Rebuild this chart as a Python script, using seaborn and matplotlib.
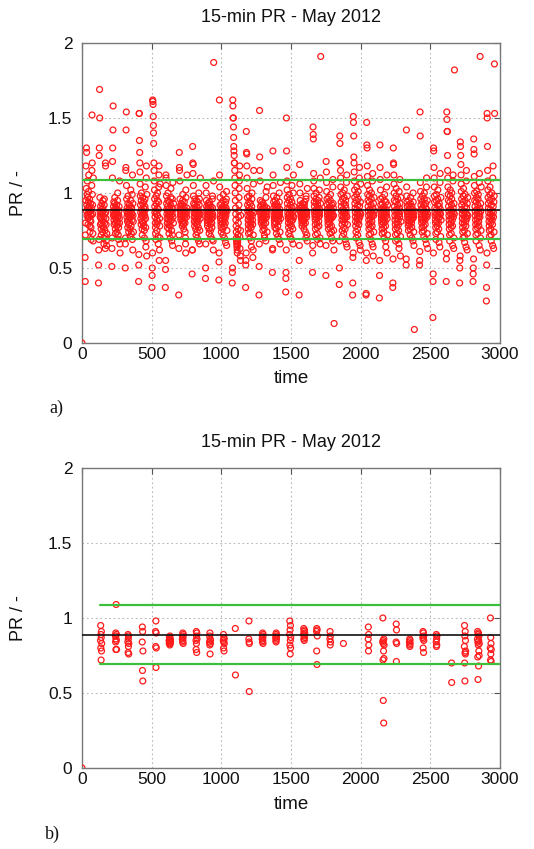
import numpy as np
import pandas as pd
import matplotlib
matplotlib.use("Agg")
import matplotlib.pyplot as plt
import seaborn as sns

# ---------------- data ----------------
title = "15-min PR - May 2012"
x_label = "time"
y_label = "PR / -"
x_ticks = [0, 500, 1000, 1500, 2000, 2500, 3000]
x_tick_labels = ["0", "500", "1000", "1500", "2000", "2500", "3000"]
y_ticks = [0, 0.5, 1, 1.5, 2]
y_tick_labels = ["0", "0.5", "1", "1.5", "2"]
panel_tags = ["a)", "b)"]

pr_mean = 0.885
pr_upper = 1.087
pr_lower = 0.692
a_band_start = 0
b_band_start = 130
band_end = 3000
origin_time = [0]
origin_pr = [0.0]

# panel a: first daylight 15-min slot of each day, and PR (in hundredths) per retained slot
a_day_start = [22, 118, 214, 310, 406, 502, 598, 694, 790, 886, 982, 1078, 1174, 1270,
               1366, 1462, 1558, 1654, 1750, 1846, 1942, 2038, 2134, 2230, 2326, 2422,
               2518, 2614, 2710, 2806, 2902]
a_slot_stride = 1.25
a_pr_pct = [
    [57, 41, 72, 80, 95, 118, 103, 88, 130, 127, 92, 85, 99, 108, 97, 90, 86, 79, 83, 94, 101, 112, 89, 87, 84, 91, 96, 78, 74, 82, 88, 93, 86, 81, 77, 69, 85, 90, 105, 115, 152, 120, 99, 92, 86, 73, 68, 110],
    [40, 52, 62, 69, 125, 130, 169, 150, 97, 88, 84, 79, 91, 86, 83, 76, 72, 80, 89, 93, 87, 82, 78, 74, 85, 90, 95, 88, 81, 77, 70, 66, 84, 92, 96, 86, 80, 75, 71, 63, 120, 118, 87, 83, 79, 68, 65, 73],
    [51, 63, 70, 110, 121, 130, 142, 158, 88, 85, 91, 94, 82, 79, 86, 89, 93, 97, 84, 80, 76, 73, 87, 90, 83, 85, 88, 92, 78, 74, 81, 86, 89, 95, 100, 84, 79, 72, 69, 77, 85, 88, 91, 83, 80, 108, 66, 60],
    [50, 66, 70, 115, 117, 142, 154, 105, 96, 88, 84, 90, 86, 81, 77, 93, 98, 87, 82, 79, 74, 85, 89, 92, 86, 83, 80, 76, 71, 88, 91, 95, 102, 84, 78, 73, 87, 90, 86, 82, 99, 69, 112, 62, 93, 85, 81, 74],
    [41, 52, 59, 153, 153, 135, 127, 120, 114, 106, 98, 92, 87, 83, 79, 95, 100, 89, 85, 81, 76, 72, 88, 93, 97, 86, 84, 80, 78, 90, 94, 87, 82, 75, 70, 85, 91, 96, 104, 89, 83, 77, 64, 68, 110, 118, 58, 99],
    [37, 45, 50, 60, 162, 161, 159, 151, 145, 140, 133, 120, 115, 108, 102, 96, 91, 87, 84, 80, 77, 73, 69, 88, 93, 98, 86, 82, 79, 75, 90, 95, 100, 85, 81, 71, 66, 89, 94, 104, 112, 118, 55, 62, 83, 78, 70, 106],
    [37, 49, 55, 112, 110, 105, 98, 93, 89, 86, 83, 80, 77, 91, 95, 100, 88, 85, 82, 79, 76, 73, 87, 90, 94, 86, 84, 81, 78, 70, 92, 97, 103, 88, 85, 82, 75, 68, 90, 86, 96, 72, 65, 107, 84, 89, 80, 93],
    [32, 63, 72, 127, 117, 115, 108, 96, 91, 88, 86, 84, 82, 90, 93, 89, 87, 85, 83, 80, 78, 92, 95, 99, 88, 86, 84, 81, 79, 76, 89, 91, 94, 87, 85, 83, 80, 74, 70, 66, 60, 102, 97, 86, 88, 84, 90, 112],
    [46, 62, 62, 131, 120, 113, 119, 105, 98, 93, 90, 87, 84, 81, 78, 92, 96, 89, 86, 83, 80, 76, 72, 88, 91, 95, 85, 82, 79, 74, 70, 90, 94, 87, 84, 81, 77, 68, 100, 88, 85, 92, 96, 66, 75, 86, 83, 110],
    [43, 50, 66, 105, 100, 95, 91, 88, 86, 84, 82, 80, 78, 90, 93, 89, 87, 85, 83, 81, 76, 73, 92, 94, 88, 86, 84, 82, 79, 75, 71, 89, 91, 87, 85, 83, 80, 77, 69, 96, 98, 90, 86, 84, 68, 62, 108, 187],
    [42, 54, 60, 162, 112, 104, 97, 92, 88, 85, 83, 81, 79, 77, 74, 90, 93, 89, 87, 85, 82, 80, 76, 72, 91, 95, 99, 88, 86, 84, 81, 78, 70, 92, 89, 86, 83, 80, 67, 94, 87, 85, 90, 96, 101, 65, 75, 88],
    [40, 47, 50, 162, 158, 150, 150, 144, 137, 131, 128, 125, 120, 120, 115, 110, 105, 100, 95, 90, 86, 82, 78, 74, 70, 68, 66, 64, 62, 60, 65, 67, 69, 72, 76, 80, 84, 88, 92, 97, 103, 108, 112, 118, 71, 63, 58, 55, 75, 85],
    [37, 52, 55, 60, 141, 127, 126, 118, 110, 103, 97, 92, 88, 85, 82, 79, 76, 73, 90, 94, 98, 87, 84, 81, 78, 74, 70, 89, 93, 86, 83, 80, 77, 68, 64, 91, 96, 100, 88, 85, 82, 79, 57, 62, 72, 106, 115, 87],
    [32, 51, 66, 155, 124, 115, 108, 95, 91, 88, 86, 84, 82, 80, 89, 92, 94, 87, 85, 83, 81, 78, 75, 90, 93, 88, 86, 84, 82, 79, 76, 72, 70, 91, 89, 87, 85, 83, 80, 68, 97, 101, 86, 84, 88, 90, 74, 104],
    [47, 62, 63, 128, 112, 105, 98, 94, 90, 87, 85, 83, 81, 79, 77, 92, 95, 89, 87, 85, 83, 80, 76, 73, 90, 93, 97, 88, 86, 84, 82, 78, 71, 91, 88, 86, 84, 81, 69, 100, 94, 87, 85, 89, 74, 66, 107, 83],
    [34, 43, 47, 62, 150, 128, 117, 108, 102, 97, 93, 90, 87, 85, 83, 80, 77, 73, 95, 99, 89, 86, 84, 82, 79, 75, 71, 92, 96, 88, 86, 83, 81, 78, 69, 94, 105, 90, 87, 85, 82, 76, 66, 100, 112, 88, 84, 91],
    [32, 55, 65, 119, 106, 100, 95, 92, 90, 88, 87, 86, 85, 84, 83, 82, 80, 78, 91, 93, 89, 88, 86, 85, 84, 82, 81, 79, 76, 90, 92, 94, 89, 87, 85, 83, 80, 74, 70, 96, 98, 88, 86, 84, 87, 72, 68, 103],
    [47, 60, 65, 144, 139, 136, 113, 108, 103, 98, 94, 91, 88, 86, 84, 82, 79, 76, 72, 93, 96, 100, 89, 87, 85, 83, 80, 77, 73, 69, 92, 95, 90, 88, 86, 84, 81, 78, 97, 102, 87, 85, 89, 70, 66, 110, 93, 191],
    [45, 65, 121, 114, 107, 101, 96, 92, 89, 87, 85, 83, 81, 79, 76, 94, 97, 90, 88, 86, 84, 82, 80, 77, 73, 91, 95, 99, 89, 87, 85, 83, 78, 74, 70, 92, 88, 86, 84, 68, 104, 109, 93, 90, 85, 75, 62, 13],
    [39, 50, 68, 138, 133, 120, 120, 115, 110, 104, 99, 94, 91, 88, 85, 82, 79, 75, 71, 96, 100, 89, 87, 84, 81, 77, 73, 93, 97, 102, 88, 86, 83, 80, 76, 69, 92, 95, 90, 87, 85, 66, 107, 112, 84, 64, 98, 79],
    [32, 40, 57, 60, 151, 147, 138, 124, 120, 114, 108, 102, 97, 93, 90, 87, 84, 81, 78, 74, 70, 95, 99, 104, 89, 86, 83, 80, 76, 72, 92, 96, 101, 88, 85, 82, 79, 67, 110, 117, 91, 87, 84, 65, 62, 94, 106, 86],
    [32, 33, 55, 60, 147, 132, 130, 118, 111, 105, 99, 95, 91, 88, 85, 82, 79, 76, 72, 94, 98, 102, 89, 86, 83, 80, 77, 73, 69, 92, 96, 100, 87, 84, 81, 78, 66, 108, 113, 90, 86, 64, 58, 93, 85, 74, 97, 88],
    [30, 45, 55, 132, 117, 109, 102, 96, 92, 89, 87, 85, 83, 81, 79, 76, 73, 93, 97, 90, 88, 86, 84, 82, 80, 77, 74, 70, 91, 95, 99, 88, 86, 84, 81, 78, 68, 64, 94, 89, 87, 85, 104, 112, 60, 83, 72, 92],
    [37, 40, 56, 130, 120, 119, 112, 106, 100, 95, 91, 88, 85, 82, 79, 76, 72, 68, 94, 98, 103, 89, 86, 83, 80, 77, 73, 69, 92, 96, 87, 85, 82, 79, 75, 66, 63, 101, 90, 86, 84, 109, 93, 88, 58, 71, 97, 81],
    [52, 56, 142, 104, 98, 94, 91, 88, 86, 84, 82, 80, 78, 75, 92, 95, 89, 87, 85, 83, 81, 79, 76, 72, 90, 93, 97, 88, 86, 84, 82, 80, 77, 70, 91, 89, 87, 85, 83, 68, 100, 94, 86, 84, 74, 65, 88, 9],
    [52, 55, 61, 154, 138, 107, 101, 96, 92, 89, 86, 84, 82, 80, 77, 74, 94, 98, 90, 87, 85, 83, 81, 78, 75, 71, 92, 96, 100, 88, 86, 84, 82, 79, 69, 93, 90, 87, 85, 66, 104, 110, 89, 84, 73, 95, 86, 63],
    [17, 41, 46, 60, 130, 128, 117, 110, 104, 98, 94, 90, 87, 85, 82, 80, 77, 73, 69, 95, 99, 89, 86, 84, 81, 78, 74, 92, 96, 102, 88, 85, 83, 80, 76, 67, 91, 93, 87, 84, 64, 107, 113, 89, 86, 71, 97, 82],
    [41, 56, 60, 154, 149, 141, 141, 125, 115, 110, 104, 99, 95, 91, 88, 85, 82, 79, 76, 72, 68, 94, 98, 102, 89, 86, 83, 80, 77, 73, 92, 96, 100, 88, 85, 82, 78, 65, 108, 112, 90, 87, 84, 63, 70, 93, 86, 182],
    [40, 50, 55, 58, 134, 131, 125, 119, 112, 106, 101, 96, 92, 89, 86, 83, 80, 77, 74, 70, 94, 98, 103, 88, 85, 82, 79, 75, 71, 67, 91, 95, 99, 87, 84, 81, 78, 64, 108, 115, 90, 86, 83, 62, 93, 73, 97, 85],
    [41, 46, 50, 56, 136, 129, 126, 111, 105, 100, 95, 91, 88, 85, 82, 79, 76, 72, 68, 94, 97, 101, 89, 86, 83, 80, 77, 73, 92, 96, 99, 87, 84, 81, 78, 65, 107, 113, 90, 86, 84, 191, 62, 70, 93, 88, 75, 104],
    [28, 37, 52, 60, 153, 150, 131, 115, 108, 102, 97, 93, 90, 87, 84, 81, 78, 75, 71, 95, 99, 104, 89, 86, 83, 80, 76, 72, 68, 92, 96, 100, 88, 85, 82, 79, 65, 110, 118, 91, 87, 84, 63, 94, 74, 98, 186, 153],
]

# panel b: first slot of each retained cluster and PR (in hundredths), consecutive slots
b_cluster_start = [133, 240, 329, 432, 528, 625, 720, 818, 915, 1014, 1100, 1197, 1293,
                   1390, 1490, 1590, 1683, 1779, 1876, 2054, 2158, 2254, 2350, 2446,
                   2542, 2652, 2744, 2838, 2930]
b_pr_pct = [
    [85, 95, 80, 89, 72, 87, 91, 78, 83],
    [88, 84, 90, 79, 86, 109, 85, 89, 79],
    [84, 89, 77, 86, 81, 88, 76, 83],
    [84, 94, 65, 91, 58, 78],
    [91, 81, 98, 67, 90, 80],
    [85, 83, 87, 84, 86, 82, 88, 85, 83, 86, 84],
    [86, 88, 84, 90, 85, 87, 83, 89],
    [85, 79, 91, 83, 88, 77, 90, 86],
    [84, 88, 82, 90, 76, 86, 83, 85],
    [85, 89, 80, 84, 87, 78, 86, 83],
    [93, 62],
    [86, 98, 84, 51, 83],
    [86, 88, 84, 90, 85, 87, 83, 89],
    [87, 85, 89, 84, 90, 86, 88],
    [89, 98, 82, 92, 76, 85, 95, 80, 87],
    [89, 93, 86, 91, 88, 85, 92, 87, 90],
    [91, 78, 93, 69, 92, 88],
    [86, 91, 82, 88, 84],
    [83],
    [86, 94, 78, 89, 82],
    [84, 100, 72, 85, 45, 83, 78, 30, 86, 73, 82],
    [84, 96, 71, 92, 83],
    [84, 82, 86, 81, 85, 83],
    [87, 91, 80, 86, 90, 77, 88, 85],
    [84, 89, 81, 86, 82, 88],
    [70, 57],
    [81, 95, 70, 88, 58, 77, 91, 76, 85, 78],
    [86, 91, 74, 84, 59, 89, 82, 90, 68, 85, 78, 88, 75, 83],
    [80, 100, 72, 87, 76, 83, 71, 79],
]

# ---------------- tables ----------------
rows_a = [(s + round(i * a_slot_stride), v / 100.0)
          for s, vals in zip(a_day_start, a_pr_pct) for i, v in enumerate(vals)]
rows_a += list(zip(origin_time, origin_pr))
df_a = pd.DataFrame(rows_a, columns=["time", "PR"])

rows_b = [(s + i, v / 100.0) for s, vals in zip(b_cluster_start, b_pr_pct) for i, v in enumerate(vals)]
rows_b += list(zip(origin_time, origin_pr))
df_b = pd.DataFrame(rows_b, columns=["time", "PR"])

# ---------------- figure ----------------
sns.set_theme(style="white")
plt.rcParams["font.family"] = ["Liberation Sans", "DejaVu Sans"]

fig = plt.figure(figsize=(5.34, 8.49), dpi=100)
ax_a = fig.add_axes([0.1536, 0.596, 0.7828, 0.3534])
ax_b = fig.add_axes([0.1536, 0.0954, 0.7828, 0.3534])

green = "#3cc03c"
for ax, df, band_start, tag, tag_xy in [
    (ax_a, df_a, a_band_start, panel_tags[0], (0.105, 1 - 408 / 849)),
    (ax_b, df_b, b_band_start, panel_tags[1], (0.098, 1 - 834 / 849)),
]:
    ax.grid(True, color="#b8b8b8", linestyle=(0, (1.5, 2.5)), linewidth=0.8)
    ax.set_axisbelow(True)
    sns.scatterplot(data=df, x="time", y="PR", ax=ax, marker="o", s=18,
                    facecolor="none", edgecolor="#ff1a1a", linewidth=0.9, zorder=3)
    line_df = pd.DataFrame({
        "time": [band_start, band_end, band_start, band_end],
        "PR": [pr_upper, pr_upper, pr_lower, pr_lower],
        "which": ["upper", "upper", "lower", "lower"],
    })
    sns.lineplot(data=line_df, x="time", y="PR", units="which", estimator=None,
                 ax=ax, color=green, linewidth=1.6, zorder=4)
    mean_df = pd.DataFrame({"time": [0, band_end], "PR": [pr_mean, pr_mean]})
    sns.lineplot(data=mean_df, x="time", y="PR", ax=ax, color="#111111",
                 linewidth=1.2, zorder=5)

    ax.set_xlim(0, 3000)
    ax.set_ylim(0, 2)
    ax.set_xticks(x_ticks)
    ax.set_xticklabels(x_tick_labels)
    ax.set_yticks(y_ticks)
    ax.set_yticklabels(y_tick_labels)
    ax.tick_params(axis="both", direction="in", length=4, width=0.8, color="#555555",
                   labelsize=12.5, top=True, right=True, labelcolor="#111111")
    ax.tick_params(axis="x", pad=3)
    ax.tick_params(axis="y", pad=7)
    for sp in ax.spines.values():
        sp.set_color("#777777")
        sp.set_linewidth(1.0)
    ax.set_xlabel(x_label, fontsize=13.5, labelpad=6, color="#111111")
    ax.set_ylabel(y_label, fontsize=13, labelpad=15, color="#111111")
    ax.set_title(title, fontsize=13, pad=15, color="#111111")
    fig.text(tag_xy[0], tag_xy[1], tag, fontsize=13, family=["Liberation Serif", "DejaVu Serif"],
             ha="center", va="center", color="#111111")

fig.savefig("out.png", dpi=100)
